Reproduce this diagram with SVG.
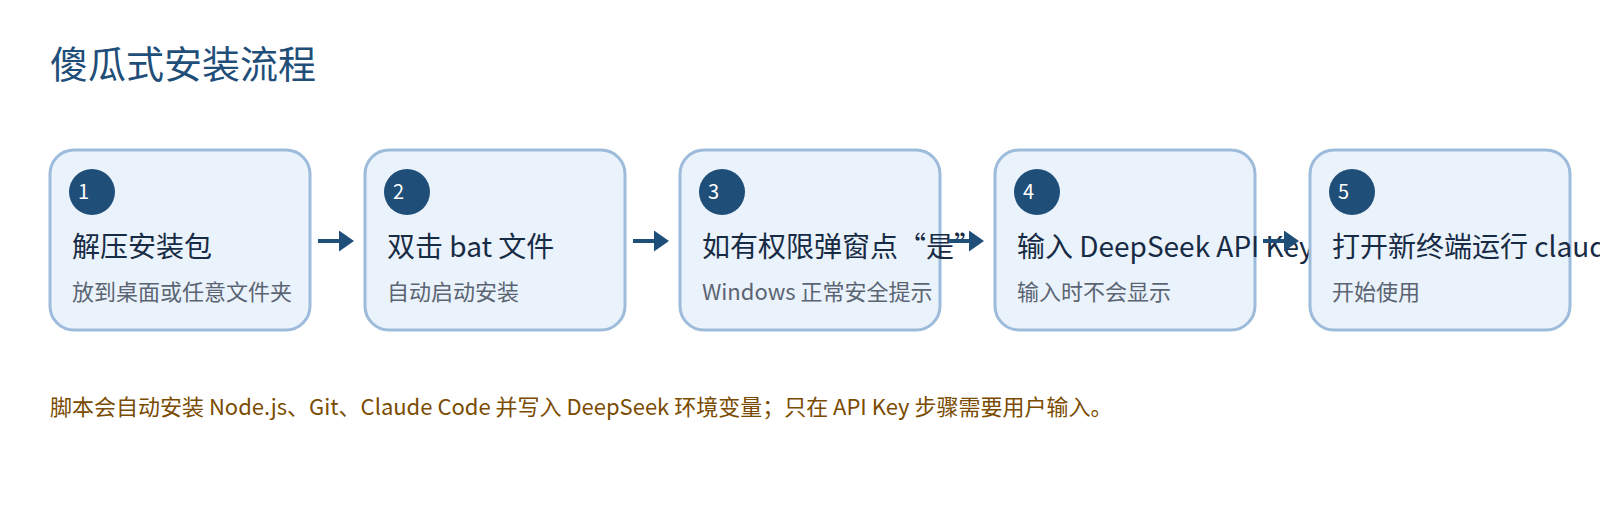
<svg xmlns="http://www.w3.org/2000/svg" width="1600" height="520" viewBox="0 0 1600 520">
  <style>
    text { font-family: "Segoe UI", "Microsoft YaHei", "Noto Sans CJK SC", sans-serif; }
    .main { font-size: 38px; fill: #1f4e79; }
    .box { fill: #eaf2fb; stroke: #9dbbdb; stroke-width: 3; }
    .badge { fill: #1f4e79; }
    .num { font-size: 20px; fill: #ffffff; }
    .ttl { font-size: 28px; fill: #172b45; }
    .sub { font-size: 22px; fill: #5b6472; }
    .note { font-size: 22px; fill: #7a4b00; }
    .conn { stroke: #1f4e79; stroke-width: 4; fill: none; }
  </style>
  <defs>
    <marker id="ah" markerUnits="userSpaceOnUse" markerWidth="15" markerHeight="21" refX="0" refY="10.5" orient="auto">
      <path d="M0,0 L15,10.5 L0,21 z" fill="#1f4e79"/>
    </marker>
  </defs>
  <rect width="1600" height="520" fill="#ffffff"/>
  <text class="main" x="50" y="78">傻瓜式安装流程</text>

  <g id="node1">
    <rect class="box" x="50" y="150" width="260" height="180" rx="24"/>
    <circle class="badge" cx="92" cy="192" r="23"/>
    <text class="num" x="78" y="199">1</text>
    <text class="ttl" x="72" y="257">解压安装包</text>
    <text class="sub" x="72" y="300">放到桌面或任意文件夹</text>
  </g>
  <g id="node2">
    <rect class="box" x="365" y="150" width="260" height="180" rx="24"/>
    <circle class="badge" cx="407" cy="192" r="23"/>
    <text class="num" x="393" y="199">2</text>
    <text class="ttl" x="387" y="257">双击 bat 文件</text>
    <text class="sub" x="387" y="300">自动启动安装</text>
  </g>
  <g id="node3">
    <rect class="box" x="680" y="150" width="260" height="180" rx="24"/>
    <circle class="badge" cx="722" cy="192" r="23"/>
    <text class="num" x="708" y="199">3</text>
    <text class="ttl" x="702" y="257">如有权限弹窗点“是”</text>
    <text class="sub" x="702" y="300">Windows 正常安全提示</text>
  </g>
  <g id="node4">
    <rect class="box" x="995" y="150" width="260" height="180" rx="24"/>
    <circle class="badge" cx="1037" cy="192" r="23"/>
    <text class="num" x="1023" y="199">4</text>
    <text class="ttl" x="1017" y="257">输入 DeepSeek API Key</text>
    <text class="sub" x="1017" y="300">输入时不会显示</text>
  </g>
  <g id="node5">
    <rect class="box" x="1310" y="150" width="260" height="180" rx="24"/>
    <circle class="badge" cx="1352" cy="192" r="23"/>
    <text class="num" x="1338" y="199">5</text>
    <text class="ttl" x="1332" y="257">打开新终端运行 claude</text>
    <text class="sub" x="1332" y="300">开始使用</text>
  </g>

  <g id="connectors">
    <line class="conn" x1="318" y1="241" x2="339" y2="241" marker-end="url(#ah)"/>
    <line class="conn" x1="633" y1="241" x2="654" y2="241" marker-end="url(#ah)"/>
    <line class="conn" x1="948" y1="241" x2="969" y2="241" marker-end="url(#ah)"/>
    <line class="conn" x1="1263" y1="241" x2="1284" y2="241" marker-end="url(#ah)"/>
  </g>

  <text class="note" x="50" y="415">脚本会自动安装 Node.js、Git、Claude Code 并写入 DeepSeek 环境变量；只在 API Key 步骤需要用户输入。</text>
</svg>
